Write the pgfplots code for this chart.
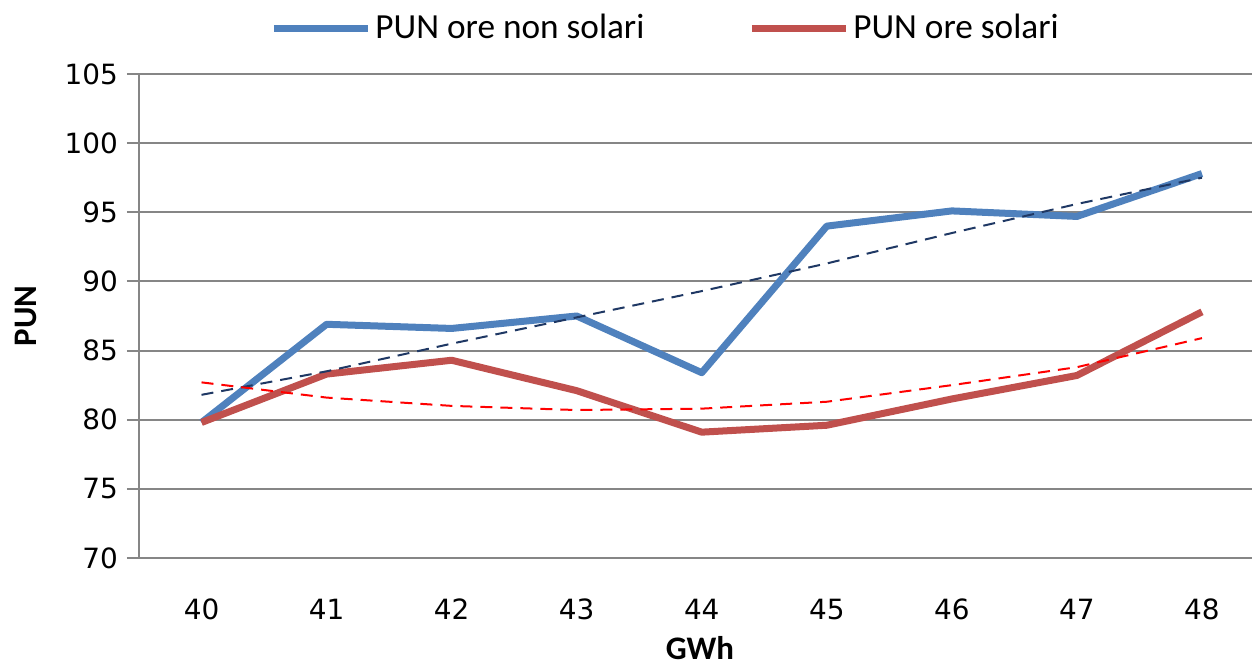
\documentclass[border=0pt]{standalone}
\usepackage{pgfplots}
\pgfplotsset{compat=1.18}
\usepackage{fontspec}
\setmainfont{Carlito}
\newfontfamily\tickfont{DejaVu Sans}

\definecolor{pblue}{HTML}{4F81BD}
\definecolor{pred}{HTML}{C0504D}
\definecolor{tnavy}{HTML}{1F3864}
\definecolor{gridgray}{HTML}{868686}

\begin{document}
\begin{tikzpicture}
\begin{axis}[
	name=ax,
	scale only axis,
	width=556.5bp,
	height=242bp,
	xmin=39.5, xmax=48.4,
	ymin=70, ymax=105,
	xtick={40,...,48},
	minor xtick={39.5,40.5,...,47.5},
	ytick={70,75,...,105},
	axis x line*=bottom,
	axis y line*=left,
	axis line style={gridgray, line width=1.2bp},
	ymajorgrids,
	major grid style={gridgray, line width=1bp},
	tick align=outside,
	x tick style={draw=none},
	minor x tick style={gridgray, line width=1bp},
	minor tick length=6bp,
	y tick style={gridgray, line width=1bp},
	major tick length=6bp,
	/pgf/number format/assume math mode=true,
	tick label style={font=\tickfont\fontsize{14}{14}\selectfont},
	xticklabel style={yshift=-11bp},
	yticklabel style={xshift=-1bp},
	xlabel={\bfseries GWh},
	ylabel={\bfseries PUN},
	label style={font=\fontsize{16.5}{16.5}\selectfont},
	xlabel style={at={(axis description cs:0.504,0)}, anchor=base, yshift=-50.5bp},
	ylabel style={yshift=7bp},
	legend style={draw=none, fill=none, at={(axis description cs:0.474,1.095)}, anchor=center,
		font=\fontsize{17.7}{17.7}\selectfont, /tikz/every even column/.append style={column sep=50bp}},
	legend columns=2,
	legend image code/.code={\draw[#1] (0bp,0bp) -- (47bp,0bp);},
]
\addplot[pblue, line width=3.5bp, line join=round] coordinates {
(40,79.8) (41,86.9) (42,86.6) (43,87.5) (44,83.4) (45,94.0) (46,95.1) (47,94.7) (48,97.8)
};
\addlegendentry{PUN ore non solari}
\addplot[pred, line width=3.5bp, line join=round] coordinates {
(40,79.8) (41,83.3) (42,84.3) (43,82.1) (44,79.1) (45,79.6) (46,81.5) (47,83.2) (48,87.8)
};
\addlegendentry{PUN ore solari}
\addplot[tnavy, line width=1bp, dash pattern=on 6bp off 4bp, forget plot] coordinates {
(40,81.8) (41,83.5) (42,85.5) (43,87.4) (44,89.3) (45,91.3) (46,93.5) (47,95.6) (48,97.5)
};
\addplot[red, line width=1bp, dash pattern=on 6bp off 4bp, forget plot] coordinates {
(40,82.7) (41,81.6) (42,81.0) (43,80.7) (44,80.8) (45,81.3) (46,82.5) (47,83.8) (48,85.9)
};
\end{axis}
\pgfresetboundingbox
\path (ax.south west) ++(-69.5bp,-55bp) coordinate (bl);
\path (ax.north east) ++(0bp,37bp) coordinate (tr);
\path (bl) rectangle (tr);
\end{tikzpicture}
\end{document}
